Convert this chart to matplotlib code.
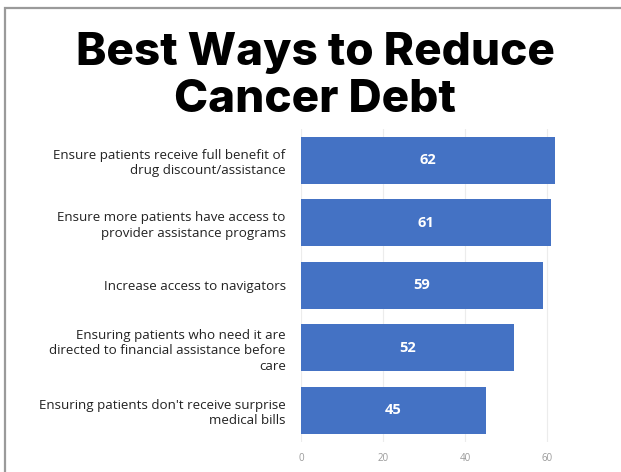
import matplotlib
matplotlib.use('Agg')

import matplotlib.pyplot as plt
from matplotlib.patches import Rectangle

labels = [
    "Ensure patients receive full benefit of\ndrug discount/assistance",
    "Ensure more patients have access to\nprovider assistance programs",
    "Increase access to navigators",
    "Ensuring patients who need it are\ndirected to financial assistance before\ncare",
    "Ensuring patients don't receive surprise\nmedical bills",
]
values = [62, 61, 59, 52, 45]
ticks = [0, 20, 40, 60]

W, H = 621, 472
fig = plt.figure(figsize=(W / 100, H / 100), dpi=100)
fig.patch.set_facecolor('white')

# grey frame along top and left (image is cropped on right / bottom)
fig.patches.append(Rectangle((5 / W, -0.2), 1.2, 1 - 8 / H + 0.2,
                             transform=fig.transFigure, fill=False,
                             edgecolor='#9a9a9a', linewidth=1.6))

fig.text(315 / W, 1 - 53 / H, "Best Ways to Reduce", ha='center', va='center',
         fontsize=33, fontweight='heavy', family='Inter', color='black')
fig.text(315 / W, 1 - 100 / H, "Cancer Debt", ha='center', va='center',
         fontsize=33, fontweight='heavy', family='Inter', color='black')

ax = fig.add_axes([301 / W, 1 - 441.5 / H, (588 - 301) / W, 312.5 / H])
ypos = list(range(len(values)))
bars = ax.barh(ypos, values, height=0.75, color='#4472C4')
for y, v in zip(ypos, values):
    ax.text(v / 2, y, str(v), ha='center', va='center', color='white',
            fontsize=10.5, fontweight='bold', family='Open Sans')

ax.set_xlim(0, 70)
ax.set_ylim(len(values) - 0.5, -0.5)
ax.set_xticks(ticks)
ax.set_yticks(ypos)
ax.set_yticklabels(labels, fontsize=9.6, family='Open Sans', color='#222222')
for lab in ax.get_yticklabels():
    lab.set_multialignment('right')
    lab.set_linespacing(1.25)
ax.tick_params(axis='y', length=0, pad=11)
ax.tick_params(axis='x', length=0, pad=8, labelsize=7, labelcolor='#9a9a9a')
for t in ax.get_xticklabels():
    t.set_family('Open Sans')
ax.grid(axis='x', color='#ececec', linewidth=0.8)
ax.set_axisbelow(True)
for s in ax.spines.values():
    s.set_visible(False)

fig.savefig('out.png', dpi=100)
